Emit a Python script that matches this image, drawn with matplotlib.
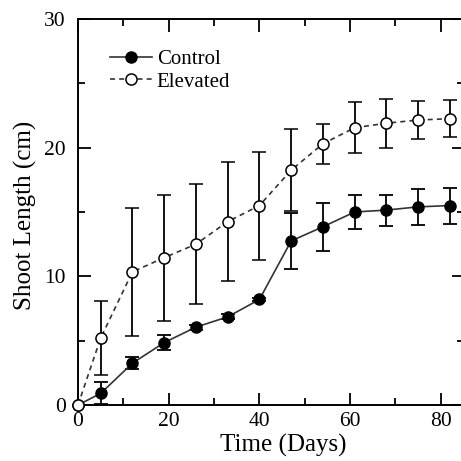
import matplotlib
matplotlib.use('Agg')
import matplotlib.pyplot as plt
from matplotlib.ticker import MultipleLocator

# Data
days = [0, 5, 12, 19, 26, 33, 40, 47, 54, 61, 68, 75, 82]
control = [0, 0.9, 3.25, 4.85, 6.05, 6.85, 8.2, 12.75, 13.85, 15.0, 15.15, 15.4, 15.5]
control_err = [0, 0.85, 0.45, 0.6, 0.2, 0.2, 0.15, 2.2, 1.85, 1.3, 1.2, 1.4, 1.4]
elevated = [0, 5.2, 10.35, 11.45, 12.5, 14.25, 15.5, 18.25, 20.3, 21.55, 21.9, 22.15, 22.25]
elevated_err = [0, 2.9, 4.95, 4.9, 4.65, 4.65, 4.2, 3.2, 1.55, 2.0, 1.9, 1.5, 1.45]

plt.rcParams['font.family'] = ['Liberation Serif', 'DejaVu Serif']

W = 461
fig = plt.figure(figsize=(4.61, 4.61), dpi=100)
# axes runs a little past the right edge, like the cropped original
ax = fig.add_axes([78 / W, (W - 405) / W, 385.5 / W, 386 / W])

c = ax.errorbar(days, control, yerr=control_err, color='#333333', lw=1.2,
                marker='o', ms=8, mfc='black', mec='black',
                ecolor='black', elinewidth=1.3, capsize=5, capthick=1.3,
                label='Control', zorder=3)
e = ax.errorbar(days, elevated, yerr=elevated_err, color='#333333', lw=1.2,
                dashes=(3, 2.5), marker='o', ms=8, mfc='white', mec='black',
                mew=1.1, ecolor='black', elinewidth=1.3, capsize=5, capthick=1.3,
                label='Elevated', zorder=4)
for cont in (c, e):
    cont[0].set_clip_on(False)

ax.set_xlim(0, 85)
ax.set_ylim(0, 30)
ax.xaxis.set_major_locator(MultipleLocator(20))
ax.xaxis.set_minor_locator(MultipleLocator(10))
ax.yaxis.set_major_locator(MultipleLocator(10))
ax.yaxis.set_minor_locator(MultipleLocator(5))
ax.tick_params(which='both', direction='in', top=True, right=True, width=1.3,
               labelsize=15.5)
ax.tick_params(which='major', length=9)
ax.tick_params(which='minor', length=5)
ax.tick_params(axis='y', pad=9)
ax.tick_params(axis='x', pad=5)
for s in ax.spines.values():
    s.set_linewidth(1.4)

ax.set_xlabel('Time (Days)', fontsize=18)
ax.set_ylabel('Shoot Length (cm)', fontsize=18)
ax.xaxis.set_label_coords(0.532, -0.075)
ax.yaxis.set_label_coords(-0.107, 0.49)

# legend shows only the line + marker, no error bars
ax.legend([c[0], e[0]], ['Control', 'Elevated'], loc='upper left',
          bbox_to_anchor=(0.083, 0.92), frameon=False,
          fontsize=15, handlelength=2.0, handletextpad=0.25, labelspacing=0.12,
          borderpad=0, borderaxespad=0)

fig.savefig('out.png', dpi=100)
